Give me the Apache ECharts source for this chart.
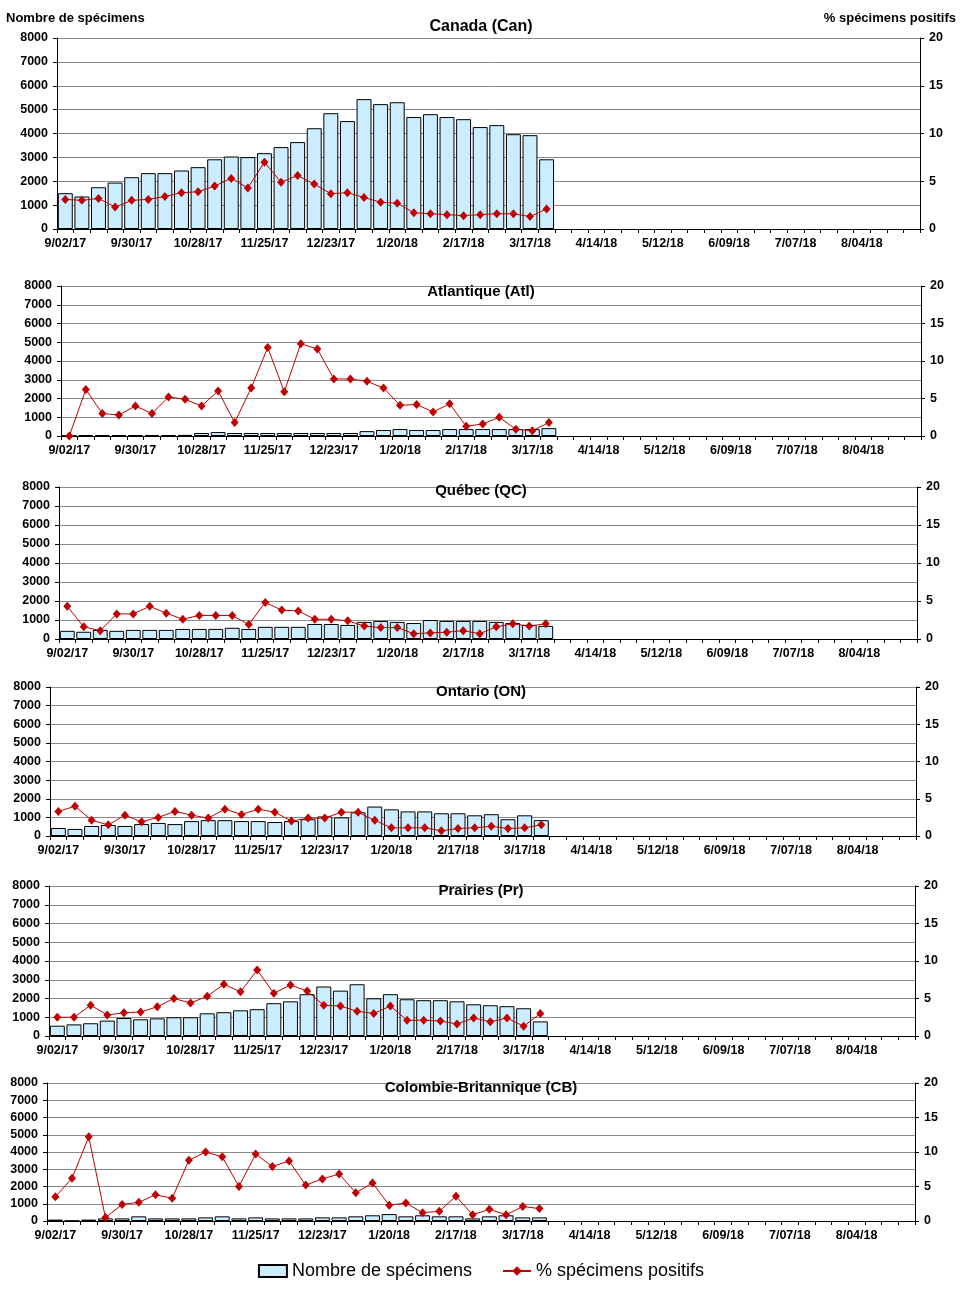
<!DOCTYPE html>
<html>
<head>
<meta charset="utf-8">
<script src="https://cdn.jsdelivr.net/npm/echarts@6/dist/echarts.min.js"></script>
<style>
html,body{margin:0;padding:0;background:#fff;}
#chart{width:962px;height:1292px;}
</style>
</head>
<body>
<div id="chart"></div>
<script>
// Week labels (x categories)
const weeks = ['9/02/17','9/09/17','9/16/17','9/23/17','9/30/17','10/07/17','10/14/17','10/21/17','10/28/17','11/04/17','11/11/17','11/18/17','11/25/17','12/02/17','12/09/17','12/16/17','12/23/17','12/30/17','1/06/18','1/13/18','1/20/18','1/27/18','2/03/18','2/10/18','2/17/18','2/24/18','3/03/18','3/10/18','3/17/18','3/24/18','3/31/18','4/07/18','4/14/18','4/21/18','4/28/18','5/05/18','5/12/18','5/19/18','5/26/18','6/02/18','6/09/18','6/16/18','6/23/18','6/30/18','7/07/18','7/14/18','7/21/18','7/28/18','8/04/18','8/11/18','8/18/18','8/25/18'];

const leftTicks = [0,1000,2000,3000,4000,5000,6000,7000,8000];
const rightTicks = [0,5,10,15,20];

const titles = ['Canada (Can)','Atlantique (Atl)','Québec (QC)','Ontario (ON)','Prairies (Pr)','Colombie-Britannique (CB)'];
const seriesNames = ['Nombre de spécimens','% spécimens positifs'];
const axisNames = ['Nombre de spécimens','% spécimens positifs'];

// Canada
const canN = [1500,1360,1750,1945,2170,2340,2340,2450,2590,2920,3035,3010,3175,3430,3640,4220,4850,4520,5440,5230,5310,4690,4810,4690,4600,4270,4350,3970,3930,2920];
const canP = [3.1,3.0,3.2,2.3,3.0,3.1,3.4,3.8,3.9,4.5,5.3,4.3,7.0,4.9,5.6,4.7,3.7,3.8,3.3,2.8,2.7,1.7,1.6,1.5,1.4,1.5,1.6,1.6,1.3,2.1];
// Atlantique
const atlN = [10,40,50,50,50,50,50,60,160,210,160,160,160,160,160,160,160,160,260,320,370,320,320,370,370,370,370,370,370,420];
const atlP = [0,6.2,3.0,2.8,4.0,3.0,5.2,4.9,4.0,6.0,1.8,6.4,11.8,5.9,12.3,11.6,7.6,7.6,7.3,6.4,4.1,4.2,3.2,4.3,1.3,1.6,2.5,0.9,0.7,1.8];
// Québec
const qcN = [430,380,480,430,480,480,480,530,530,530,590,530,640,640,640,790,790,740,900,950,900,840,1000,950,950,950,900,840,740,690];
const qcP = [4.3,1.6,1.1,3.3,3.3,4.3,3.4,2.6,3.1,3.1,3.1,1.9,4.8,3.8,3.7,2.6,2.6,2.4,1.7,1.5,1.5,0.7,0.8,0.9,1.1,0.7,1.6,2.0,1.7,2.0];
// Ontario
const onN = [430,380,540,590,540,640,700,640,800,850,850,800,800,750,800,900,1050,1000,1270,1580,1430,1320,1320,1220,1220,1110,1170,900,1110,850];
const onP = [3.3,4.0,2.1,1.5,2.8,1.9,2.5,3.3,2.8,2.4,3.6,2.9,3.6,3.2,2.0,2.4,2.4,3.2,3.2,2.1,1.1,1.1,1.1,0.7,1.0,1.1,1.3,1.0,1.1,1.5];
// Prairies
const prN = [550,620,680,820,960,890,940,1000,1000,1210,1270,1370,1430,1750,1850,2230,2640,2420,2760,2010,2230,1960,1910,1910,1850,1690,1640,1590,1480,780];
const prP = [2.5,2.5,4.1,2.8,3.1,3.2,3.9,5.0,4.4,5.3,6.9,5.9,8.8,5.7,6.8,6.0,4.1,4.0,3.3,3.0,4.0,2.1,2.1,2.0,1.6,2.4,1.9,2.4,1.3,3.0];
// Colombie-Britannique
const cbN = [80,20,80,150,150,270,150,150,150,210,270,150,210,150,150,150,210,210,270,330,400,270,330,270,270,150,270,330,210,210];
const cbP = [3.5,6.2,12.2,0.5,2.4,2.7,3.8,3.3,8.8,10.0,9.3,5.0,9.7,7.9,8.7,5.2,6.1,6.8,4.1,5.5,2.3,2.6,1.2,1.4,3.6,0.9,1.7,0.9,2.1,1.8];

const panels = [
  {N: canN, P: canP, grid: {left: 57, top: 38, width: 863, height: 191}, titleTop: 19, titleSize: 16},
  {N: atlN, P: atlP, grid: {left: 61, top: 286, width: 860, height: 150}, titleTop: 284, titleSize: 15},
  {N: qcN, P: qcP, grid: {left: 59, top: 487, width: 858, height: 152}, titleTop: 483, titleSize: 15},
  {N: onN, P: onP, grid: {left: 50, top: 687, width: 866, height: 149}, titleTop: 684, titleSize: 15},
  {N: prN, P: prP, grid: {left: 49, top: 886, width: 866, height: 150}, titleTop: 883, titleSize: 15},
  {N: cbN, P: cbP, grid: {left: 47, top: 1083, width: 868, height: 138}, titleTop: 1080, titleSize: 15}
];

const FONT = 'Arial, "Liberation Sans", sans-serif';
const BAR = '#CCECFF';
const RED = '#C00000';

const option = {
  animation: false,
  backgroundColor: '#ffffff',
  textStyle: {fontFamily: FONT},
  title: [],
  grid: [],
  xAxis: [],
  yAxis: [],
  series: [],
  legend: {
    data: [{name: seriesNames[0], icon: 'rect'}, {name: seriesNames[1]}],
    left: 'center',
    top: 1257,
    itemWidth: 28,
    itemHeight: 12,
    itemGap: 30,
    textStyle: {fontFamily: FONT, fontSize: 18, color: '#000'}
  }
};

panels.forEach((p, i) => {
  option.title.push({
    text: titles[i], left: 'center', top: p.titleTop, padding: 0,
    textStyle: {fontFamily: FONT, fontSize: p.titleSize, fontWeight: 'bold', color: '#000'}
  });
  option.grid.push(Object.assign({containLabel: false}, p.grid));
  option.xAxis.push({
    type: 'category', gridIndex: i, data: weeks, boundaryGap: true,
    axisLine: {lineStyle: {color: '#000', width: 1}},
    axisTick: {show: true, interval: 0, alignWithLabel: false, length: 4, lineStyle: {color: '#000'}},
    axisLabel: {interval: 3, color: '#000', fontWeight: 'bold', fontSize: 12.5, fontFamily: FONT, margin: 8},
    splitLine: {show: false}
  });
  option.yAxis.push({
    type: 'value', gridIndex: i, position: 'left',
    min: leftTicks[0], max: leftTicks[leftTicks.length - 1], interval: 1000,
    axisLine: {show: true, lineStyle: {color: '#000'}},
    axisTick: {show: true, length: 4, lineStyle: {color: '#000'}},
    axisLabel: {color: '#000', fontWeight: 'bold', fontSize: 12.5, fontFamily: FONT, margin: 9,
      formatter: v => String(v)},
    splitLine: {show: true, lineStyle: {color: '#8a8a8a', width: 1}}
  });
  option.yAxis.push({
    type: 'value', gridIndex: i, position: 'right',
    min: rightTicks[0], max: rightTicks[rightTicks.length - 1], interval: 5,
    axisLine: {show: true, lineStyle: {color: '#000'}},
    axisTick: {show: true, length: 4, lineStyle: {color: '#000'}},
    axisLabel: {color: '#000', fontWeight: 'bold', fontSize: 12.5, fontFamily: FONT, margin: 9,
      formatter: v => String(v)},
    splitLine: {show: false}
  });
  option.series.push({
    name: seriesNames[0], type: 'bar', xAxisIndex: i, yAxisIndex: 2 * i,
    data: p.N, barCategoryGap: '10%',
    itemStyle: {color: BAR, borderColor: '#000', borderWidth: 1}
  });
  option.series.push({
    name: seriesNames[1], type: 'line', xAxisIndex: i, yAxisIndex: 2 * i + 1,
    data: p.P, symbol: 'diamond', symbolSize: [8, 9],
    lineStyle: {color: RED, width: 1},
    itemStyle: {color: RED},
    z: 3
  });
});

// axis names at top
option.title.push({
  text: axisNames[0], left: 6, top: 12, padding: 0,
  textStyle: {fontFamily: FONT, fontSize: 13, fontWeight: 'bold', color: '#000'}
});
option.title.push({
  text: axisNames[1], right: 6, top: 12, padding: 0,
  textStyle: {fontFamily: FONT, fontSize: 13, fontWeight: 'bold', color: '#000'}
});

const chart = echarts.init(document.getElementById('chart'), null, {renderer: 'canvas'});
chart.setOption(option);
</script>
</body>
</html>
